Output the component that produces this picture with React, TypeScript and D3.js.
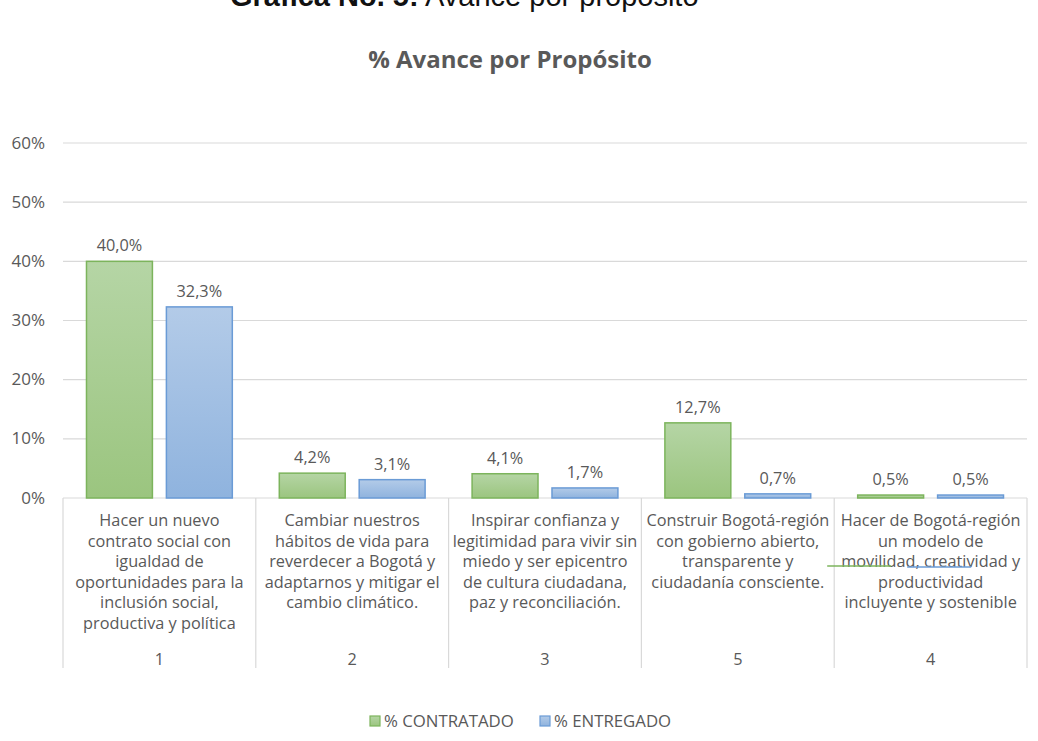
import React from "react";
import * as d3 from "d3";

const categories = ["1", "2", "3", "5", "4"];
const categoryLabels: string[][] = [
  ["Hacer un nuevo", "contrato social con", "igualdad de", "oportunidades para la", "inclusión social,", "productiva y política"],
  ["Cambiar nuestros", "hábitos de vida para", "reverdecer a Bogotá y", "adaptarnos y mitigar el", "cambio climático."],
  ["Inspirar confianza y", "legitimidad para vivir sin", "miedo y ser epicentro", "de cultura ciudadana,", "paz y reconciliación."],
  ["Construir Bogotá-región", "con gobierno abierto,", "transparente y", "ciudadanía consciente."],
  ["Hacer de Bogotá-región", "un modelo de", "movilidad, creatividad y", "productividad", "incluyente y sostenible"],
];
const contratado = [40.0, 4.2, 4.1, 12.7, 0.5];
const entregado = [32.3, 3.1, 1.7, 0.7, 0.5];
const seriesNames = ["% CONTRATADO", "% ENTREGADO"];
const yTicks = [0, 10, 20, 30, 40, 50, 60];

const W = 1038;
const H = 741;
const FONT = "'Open Sans', 'Noto Sans', sans-serif";
const GRAY = "#595959";
const GRID = "#d9d9d9";

const fills = ["url(#gGreen)", "url(#gBlue)"];
const strokes = ["#7cb45c", "#6a9bd6"];

const fmt = (v: number) => v.toFixed(1).replace(".", ",") + "%";

export default function App() {
  const left = 63, right = 1027, top = 143, bottom = 498;
  const x = d3.scaleBand<string>().domain(categories).range([left, right]).paddingInner(0).paddingOuter(0);
  const xs = d3.scaleBand<string>().domain(["c", "e"]).range([0, x.bandwidth()]).paddingInner(0.175).paddingOuter(0.294);
  const y = d3.scaleLinear().domain([0, 60]).range([bottom, top]);
  const series = [contratado, entregado];
  const keys = ["c", "e"];
  const boxBottom = 668;
  const FS = 16.3;

  return (
    <svg width={W} height={H} style={{ position: "absolute", left: 0, top: 0, background: "#fff" }} fontFamily={FONT}>
      <defs>
        <linearGradient id="gGreen" x1="0" y1="0" x2="0" y2="1">
          <stop offset="0" stopColor="#b5d5a5" />
          <stop offset="1" stopColor="#9bc57f" />
        </linearGradient>
        <linearGradient id="gBlue" x1="0" y1="0" x2="0" y2="1">
          <stop offset="0" stopColor="#b3cbe8" />
          <stop offset="1" stopColor="#8fb3de" />
        </linearGradient>
      </defs>
      <rect width={W} height={H} fill="#fff" />
      {/* document caption (cut at top, as in the source) */}
      <text x={230} y={6} fontFamily="'Liberation Sans', Arial, sans-serif" fontSize={29} fill="#111">
        <tspan fontWeight="bold">Gráfica No. 5:</tspan>
        <tspan> Avance por propósito</tspan>
      </text>
      {/* chart title */}
      <text x={510} y={68} textAnchor="middle" fontSize={24} fontWeight="bold" fill={GRAY}>
        % Avance por Propósito
      </text>
      {/* grid */}
      {yTicks.map((t) => (
        <g key={t}>
          {t > 0 && <line x1={left} x2={right} y1={y(t)} y2={y(t)} stroke={GRID} strokeWidth={1.2} />}
          <text x={45} y={y(t) + 5.5} textAnchor="end" fontSize={17} fill={GRAY}>
            {t}%
          </text>
        </g>
      ))}
      {/* category box */}
      <line x1={left} x2={right} y1={bottom} y2={bottom} stroke={GRID} strokeWidth={1.2} />
      {categories.map((c, i) => (
        <line key={"d" + i} x1={x(c)!} x2={x(c)!} y1={bottom} y2={boxBottom} stroke={GRID} strokeWidth={1.2} />
      ))}
      <line x1={right} x2={right} y1={bottom} y2={boxBottom} stroke={GRID} strokeWidth={1.2} />
      {/* bars */}
      {categories.map((c, i) =>
        series.map((s, k) => {
          const bx = x(c)! + xs(keys[k])!;
          const bw = xs.bandwidth();
          const v = s[i];
          return (
            <g key={c + k}>
              <rect x={bx} y={y(v)} width={bw} height={bottom - y(v)} fill={fills[k]} stroke={strokes[k]} strokeWidth={1.5} />
              <text x={bx + bw / 2} y={y(v) - 10} textAnchor="middle" fontSize={FS} fill={GRAY}>
                {fmt(v)}
              </text>
            </g>
          );
        })
      )}
      {/* category labels */}
      {categories.map((c, i) => (
        <g key={"l" + c}>
          {categoryLabels[i].map((ln, j) => (
            <text key={j} x={x(c)! + x.bandwidth() / 2} y={526 + j * 20.5} textAnchor="middle" fontSize={FS} fill={GRAY}>
              {ln}
            </text>
          ))}
          <text x={x(c)! + x.bandwidth() / 2} y={665} textAnchor="middle" fontSize={FS} fill={GRAY}>
            {c}
          </text>
        </g>
      ))}
      {/* stray legend strokes over last category label */}
      <line x1={x("4")! - 7} x2={x("4")! + 57} y1={566} y2={566} stroke={strokes[0]} strokeWidth={1.5} />
      <line x1={x("4")! + 73} x2={x("4")! + 137} y1={567} y2={567} stroke={strokes[1]} strokeWidth={1.5} />
      {/* legend */}
      {seriesNames.map((n, k) => {
        const lx = k === 0 ? 370 : 540;
        return (
          <g key={n}>
            <rect x={lx} y={716} width={10} height={10} fill={fills[k]} stroke={strokes[k]} strokeWidth={1.2} />
            <text x={lx + 14} y={727} fontSize={16.8} fill={GRAY}>
              {n}
            </text>
          </g>
        );
      })}
    </svg>
  );
}
